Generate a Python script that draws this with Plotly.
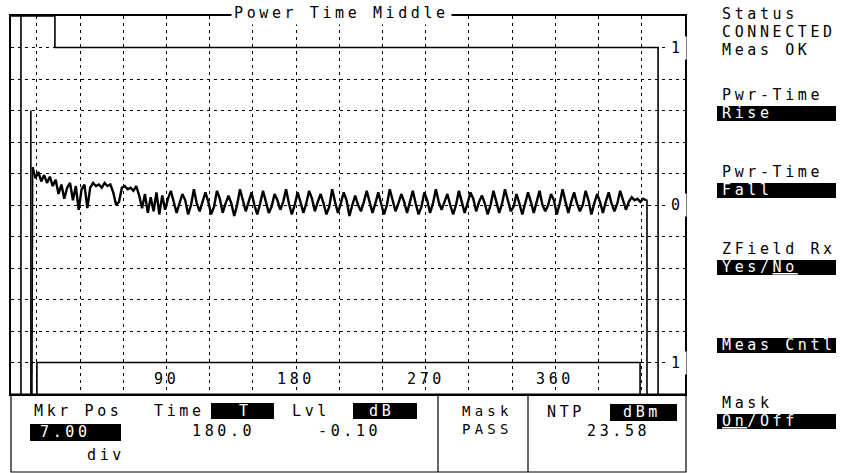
import plotly.graph_objects as go

W, H = 841, 473

# ---------------- data ----------------
# time axis (bits) sampling of the measured power trace
trace_t0 = -3
trace_dt = 2
# relative power (dB) during settling after the rising edge
power_db_settling = [0.24, 0.17, 0.21, 0.15, 0.19, 0.14, 0.18, 0.12, 0.16, 0.07,
                     0.13, 0.04, 0.11, 0.14, 0.03, 0.12, -0.03, 0.10, 0.13, -0.02,
                     0.11, 0.14, 0.12, 0.13, 0.11, 0.14, 0.12, 0.13, 0.08, 0.00,
                     0.02, 0.11, 0.12, 0.10, 0.11, 0.09, 0.12, 0.06, -0.02, 0.07,
                     -0.05, 0.05, -0.04, 0.08, -0.06, 0.06, -0.03, 0.04]
# relative power (dB) in the useful part of the burst
power_db_steady = [
    0.09, 0.02, -0.05, 0.01,   0.07, 0.03, -0.06, 0.00,   0.10, 0.01, -0.04, 0.02,
    0.08, 0.02, -0.06, -0.01,  0.09, 0.04, -0.05, 0.01,   0.06, 0.01, -0.07, 0.00,
    0.10, 0.03, -0.04, 0.02,   0.08, 0.00, -0.06, 0.01,   0.09, 0.02, -0.05, -0.01,
    0.07, 0.03, -0.03, 0.02,   0.10, 0.01, -0.06, 0.00,   0.08, 0.02, -0.05, 0.01,
    0.09, 0.04, -0.04, 0.02,   0.07, 0.01, -0.06, -0.01,  0.10, 0.02, -0.05, 0.01,
    0.08, 0.03, -0.07, 0.00,   0.06, 0.00, -0.04, 0.02,   0.09, 0.02, -0.05, 0.01,
    0.08, 0.01, -0.06, 0.00,   0.10, 0.03, -0.04, 0.01,   0.07, 0.02, -0.05, 0.02,
    0.09, 0.01, -0.06, -0.01,  0.08, 0.03, -0.05, 0.01,   0.10, 0.02, -0.03, 0.02,
    0.07, 0.00, -0.06, 0.00,   0.09, 0.02, -0.05, 0.01,   0.08, 0.04, -0.04, 0.02,
    0.06, 0.01, -0.06, 0.00,   0.09, 0.02, -0.05, 0.01,   0.10, 0.03, -0.04, -0.01,
    0.07, 0.01, -0.06, 0.01,   0.08, 0.02, -0.05, 0.02,   0.09, 0.00, -0.04, 0.00,
    0.07, 0.03, -0.06, 0.01,   0.10, 0.02, -0.05, 0.02,   0.08, 0.01, -0.04, 0.00,
    0.09, 0.03, -0.06, 0.01,   0.07, 0.02, -0.05, 0.02,   0.08, 0.01, -0.04, 0.01,
    0.09, 0.03, -0.03, 0.02,   0.05, 0.03, 0.04, 0.02,    0.04, 0.03]

rise_t = [-3.5, -3.5, -3]
rise_db = [-1.3, 0.22, 0.24]
fall_t = [423, 423.6, 423.6]
fall_db = [0.03, 0.03, -1.3]

upper_mask_t = [-18, 12.5, 12.5, 431.3, 431.3]
upper_mask_db = [1.2, 1.2, 1.0, 1.0, -1.3]
lower_mask_t = [0, 0, 418.8, 418.8]
lower_mask_db = [-1.3, -1.0, -1.0, -1.3]
rise_limit_t = [-4.2, -4.2]
rise_limit_db = [0.6, -1.3]
inner_edge_t = [-11.1, -11.1]
inner_edge_db = [-1.3, 1.3]

x_tick_vals = [90, 180, 270, 360]
x_tick_text = ["90", "180", "270", "360"]
y_tick_vals = [1, 0, -1]
y_tick_text = ["1", "0", "1"]

FONT = "DejaVu Sans Mono"
LS = "3.6px"


def px(x):
    return x / W


def py(y):
    return 1 - y / H


fig = go.Figure()

power_db = power_db_settling + power_db_steady
fig.add_trace(go.Scatter(x0=trace_t0, dx=trace_dt, y=power_db, mode="lines",
                         line=dict(color="black", width=2.4)))
for tx, ty in [(rise_t, rise_db), (fall_t, fall_db)]:
    fig.add_trace(go.Scatter(x=tx, y=ty, mode="lines", line=dict(color="black", width=1.6)))
for tx, ty in [(upper_mask_t, upper_mask_db), (lower_mask_t, lower_mask_db),
               (rise_limit_t, rise_limit_db), (inner_edge_t, inner_edge_db)]:
    fig.add_trace(go.Scatter(x=tx, y=ty, mode="lines", line=dict(color="black", width=1.6)))

annotations = []


def txt(s, x, y, color="black", anchor="left", size=15, bg=None, xref="paper", yref="paper",
        ls=LS):
    d = dict(text=f'<span style="letter-spacing:{ls}">{s}</span>',
             x=x, y=y, xref=xref, yref=yref, xanchor=anchor, yanchor="middle",
             align=anchor if anchor in ("left", "right") else "center",
             showarrow=False, font=dict(family=FONT, size=size, color=color))
    if bg:
        d["bgcolor"] = bg
        d["borderpad"] = 2
    annotations.append(d)


# title breaking the top frame
txt("Power Time Middle", px(341), py(13), anchor="center", bg="white")

# x tick labels inside plot
for v, s in zip(x_tick_vals, x_tick_text):
    txt(s, v, -1.105, anchor="center", xref="x", yref="y")
# right-side level labels
for v, s in zip(y_tick_vals, y_tick_text):
    txt(s, px(677), v, anchor="center", bg="white", xref="paper", yref="y")

shapes = []


def box(x0, y0, x1, y1):
    shapes.append(dict(type="rect", xref="paper", yref="paper",
                       x0=px(x0), x1=px(x1), y0=py(y1), y1=py(y0),
                       fillcolor="black", line=dict(width=0), layer="above"))


# bottom panel frame
shapes.append(dict(type="rect", xref="paper", yref="paper", x0=px(11), x1=px(686),
                   y0=py(472), y1=py(394), line=dict(color="black", width=1.2)))
for xd in (438, 528):
    shapes.append(dict(type="line", xref="paper", yref="paper", x0=px(xd), x1=px(xd),
                       y0=py(472), y1=py(394), line=dict(color="black", width=1.2)))

# bottom panel content
txt("Mkr Pos", px(32), py(411))
box(30, 424, 121, 441)
txt("7.00", px(38), py(432), color="white")
txt("div", px(85), py(455))
txt("Time", px(152), py(411))
box(211, 403, 274, 419)
txt("T", px(245), py(411), color="white", anchor="center")
txt("180.0", px(190), py(431))
txt("Lvl", px(290), py(411))
box(353, 403, 417, 419)
txt("dB", px(367), py(411), color="white")
txt("-0.10", px(316), py(431))
txt("Mask<br>PASS", px(460), py(420), size=14, ls="4.2px")
txt("NTP", px(545), py(412))
box(610, 404, 677, 421)
txt("dBm", px(621), py(412), color="white")
txt("23.58", px(585), py(431))

# right soft-key panel
txt("Status", px(720), py(14))
txt("CONNECTED", px(720), py(32))
txt("Meas OK", px(720), py(50))
txt("Pwr-Time", px(720), py(95))
box(717, 106, 836, 121)
txt("Rise", px(720), py(113), color="white")
txt("Pwr-Time", px(720), py(172))
box(717, 183, 836, 198)
txt("Fall", px(720), py(190), color="white")
txt("ZField Rx", px(720), py(249))
box(717, 260, 836, 275)
txt('Yes/<span style="text-decoration:underline">No</span>', px(720), py(267), color="white")
box(717, 338, 836, 353)
txt("Meas Cntl", px(720), py(345), color="white")
txt("Mask", px(720), py(403))
box(717, 414, 836, 429)
txt('<span style="text-decoration:underline">On</span>/Off', px(720), py(421), color="white")

grid_style = dict(showgrid=True, gridcolor="black", gridwidth=1, griddash="3px,4px",
                  zeroline=False, showticklabels=False, ticks="",
                  showline=True, mirror=True, linecolor="black", linewidth=1.5)

fig.update_layout(
    width=W, height=H,
    margin=dict(l=0, r=0, t=0, b=0),
    paper_bgcolor="white", plot_bgcolor="white",
    showlegend=False,
    hovermode=False,
    xaxis=dict(domain=[px(11), px(685)], range=[-18, 450], tick0=0, dtick=30, **grid_style),
    yaxis=dict(domain=[py(394), py(16)], range=[-1.2, 1.2], tick0=0, dtick=0.2, **grid_style),
    annotations=annotations,
    shapes=shapes,
)

fig.write_html("out.html", config={"displayModeBar": False},
               post_script="document.body.style.margin='0';")
